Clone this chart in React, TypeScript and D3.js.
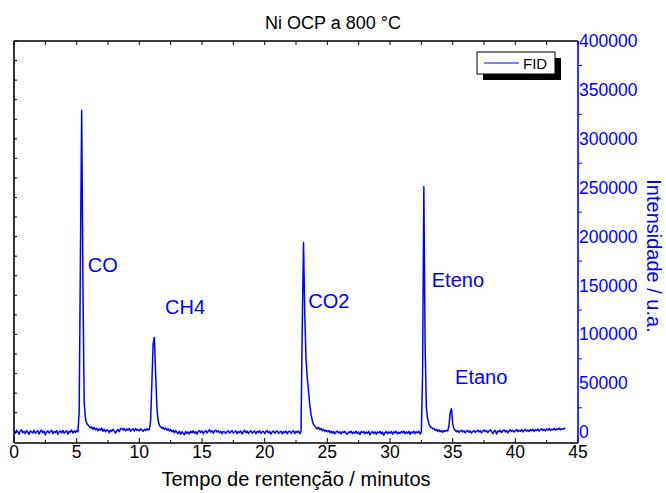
import React from "react";
import * as d3 from "d3";

// FID chromatogram, sampled every 0.1 min starting at 0 min
const sampleStart = 0;
const sampleStep = 0.1;
const fidIntensity: number[] = [
  /* 0.0 */ 1500, -1000, 2000, 500, -2000, 1000, 2500, -500, 800, -1500,
  /* 1.0 */ 1800, 300, -2200, 1200, 600, -800, 2000, -1200, 400, 1500,
  /* 2.0 */ -1800, 700, 2200, -600, 1000, -2500, 300, 1400, -900, 600,
  /* 3.0 */ 2100, -1400, 800, -300, 1700, -2000, 500, 1200, -700, 1900,
  /* 4.0 */ -1100, 400, 1600, -1900, 900, 200, 2300, -800, 1300, -400,
  /* 5.0 */ 1800, 600, 20000, 180000, 329000, 150000, 30000, 14000, 9000, 7500,
  /* 6.0 */ 6000, 4500, 5500, 3000, 4800, 2500, 4000, 1500, 3500, 2000,
  /* 7.0 */ 4200, 1000, 3000, 500, 2500, 1800, -500, 2200, 800, 3000,
  /* 8.0 */ 1200, -800, 1500, 2800, 600, 3500, 4000, 2200, 3800, 1500,
  /* 9.0 */ 3200, 2000, 4000, 1000, 2600, 3400, 1200, 3800, 2000, 2800,
  /* 10.0 */ 1500, 3500, 2200, 1000, 3000, 1800, 3600, 2400, 3000, 12000,
  /* 11.0 */ 50000, 90000, 97000, 60000, 25000, 12000, 7000, 5500, 4000, 5000,
  /* 12.0 */ 3000, 4200, 2000, 3500, 1200, 2800, 500, 2000, -500, 1500,
  /* 13.0 */ 0, -1500, 1000, -2000, 500, -1000, -2500, 800, -1200, 300,
  /* 14.0 */ -1800, 1000, -500, 1500, -1000, 600, -2000, 800, 1500, -300,
  /* 15.0 */ 1200, -1500, 500, 1800, -800, 1000, 2500, 200, 1600, -1000,
  /* 16.0 */ 1200, 2000, 300, 1500, -600, 1000, -1500, 800, 200, -1200,
  /* 17.0 */ 600, 1400, -800, 400, 1800, -1000, 300, 1500, -1500, 700,
  /* 18.0 */ -400, 1200, -1800, 600, 2000, -500, 1100, -1300, 500, 1600,
  /* 19.0 */ -900, 300, 1300, -1600, 800, -200, 1500, -1100, 400, 1000,
  /* 20.0 */ -1400, 600, 1700, -700, 900, -1900, 300, 1200, -1000, 500,
  /* 21.0 */ 1400, -1200, 200, 1000, -1700, 700, -400, 1300, -1500, 600,
  /* 22.0 */ 1100, -900, 400, 1500, -1300, 800, -200, 1200, -1600, 500,
  /* 23.0 */ 110000, 194000, 120000, 75000, 55000, 42000, 28000, 18000, 12000, 8000,
  /* 24.0 */ 6500, 4500, 3500, 5000, 2500, 3800, 1500, 3000, 800, 2000,
  /* 25.0 */ 500, 1800, -500, 1200, -1000, 800, -1500, 300, 1200, -800,
  /* 26.0 */ 500, -1800, 700, -400, 1000, -1200, -2000, 400, -600, 900,
  /* 27.0 */ -1500, 300, -900, 1100, -1400, 200, -2200, 600, -300, 800,
  /* 28.0 */ -1700, 100, -1000, 900, -2500, -500, 700, -1300, 400, -2000,
  /* 29.0 */ 300, -800, 1000, -1600, 200, -3000, -400, 600, -1500, 300,
  /* 30.0 */ -900, 800, -2000, 500, -700, 1000, -1800, 0, -1200, 700,
  /* 31.0 */ -500, 1200, -1500, 400, -1000, 900, -2200, 300, -800, 1100,
  /* 32.0 */ -1400, 500, -600, 1000, -1800, 300, 60000, 251000, 90000, 25000,
  /* 33.0 */ 14000, 9000, 6000, 5000, 3500, 4000, 2000, 3000, 1000, 2500,
  /* 34.0 */ 500, 1800, -200, 1500, 800, 2000, 1200, 6000, 20000, 24000,
  /* 35.0 */ 9000, 3500, 2000, 500, 1800, -300, 1200, 2000, 300, 1500,
  /* 36.0 */ -500, 1000, 1800, 0, 1300, -800, 900, 1600, -200, 1100,
  /* 37.0 */ 2000, 400, 1500, -600, 1200, 2200, 600, 1700, -300, 1300,
  /* 38.0 */ 2500, 800, -1500, 1000, 1900, -1800, 1200, 500, 2000, -400,
  /* 39.0 */ 1400, 2300, 300, 1700, -700, 1200, 2500, 800, 1900, 200,
  /* 40.0 */ 1500, 2800, 600, 2000, 1000, 2600, 300, 1800, 2900, 1100,
  /* 41.0 */ 2200, 800, 2700, 1500, 3000, 900, 2400, 1700, 3200, 1200,
  /* 42.0 */ 2600, 3500, 1800, 2900, 1300, 3300, 2200, 3800, 1900, 3000,
  /* 43.0 */ 2400, 3900, 2100, 3400, 2700, 4200, 2500, 3600, 3000, 4100,
  /* 44.0 */ 3500,
];

const xTicks = [0, 5, 10, 15, 20, 25, 30, 35, 40, 45];
const yTicks = [0, 50000, 100000, 150000, 200000, 250000, 300000, 350000, 400000];

const peakNames = ["CO", "CH4", "CO2", "Eteno", "Etano"];
const peakLabelTime = [5.88, 12.05, 23.48, 33.33, 35.19];
const peakLabelValue = [163800, 120900, 126700, 148800, 49000];

const title = "Ni OCP a 800 °C";
const xTitle = "Tempo de rentenção / minutos";
const yTitle = "Intensidade / u.a.";
const seriesName = "FID";

const W = 666;
const H = 493;
const M = { left: 14, right: 578, top: 41, bottom: 443 };
const BLUE = "#0000ff";
const FONT = "'Liberation Sans', Arial, sans-serif";

export default function App() {
  const x = d3.scaleLinear().domain([0, 45]).range([M.left, M.right]);
  const y = d3.scaleLinear().domain([-11000, 400000]).range([M.bottom, M.top]);

  const pts: [number, number][] = fidIntensity.map((v, i) => [sampleStart + i * sampleStep, v]);
  const line = d3
    .line<[number, number]>()
    .x((d) => x(d[0]))
    .y((d) => y(d[1]));

  const minorX = d3.range(0, 45.01, 2.5);
  const leftMinor = d3.range(0, 400001, 20000);
  const rightMinor = d3.range(25000, 400000, 50000);

  return (
    <svg
      width={W}
      height={H}
      style={{ position: "absolute", left: 0, top: 0, background: "#fff" }}
      fontFamily={FONT}
    >
      <rect x={0} y={0} width={W} height={H} fill="#fff" />
      <text x={333} y={29} textAnchor="middle" fontSize={18} fill="#000">
        {title}
      </text>

      {/* data */}
      <path d={line(pts) || ""} fill="none" stroke={BLUE} strokeWidth={1.5} strokeLinejoin="round" />

      {/* frame */}
      <line x1={M.left} x2={M.right} y1={M.top} y2={M.top} stroke="#000" strokeWidth={1.6} />
      <line x1={M.left} x2={M.left} y1={M.top} y2={M.bottom} stroke="#000" strokeWidth={1.6} />
      <line x1={M.left} x2={M.right} y1={M.bottom} y2={M.bottom} stroke="#000" strokeWidth={1.6} />

      {/* top ticks */}
      {minorX.map((t) => (
        <line key={"tt" + t} x1={x(t)} x2={x(t)} y1={M.top} y2={M.top + 4} stroke="#000" strokeWidth={1} />
      ))}
      {/* bottom ticks */}
      {minorX.map((t) => (
        <line
          key={"bt" + t}
          x1={x(t)}
          x2={x(t)}
          y1={M.bottom}
          y2={M.bottom - (t % 5 === 0 ? 5 : 3)}
          stroke="#000"
          strokeWidth={1}
        />
      ))}
      {/* left ticks */}
      {leftMinor.map((v) => (
        <line key={"lt" + v} x1={M.left} x2={M.left + 3} y1={y(v)} y2={y(v)} stroke="#000" strokeWidth={1} />
      ))}
      {xTicks.map((t) => (
        <text key={"xl" + t} x={x(t)} y={458} textAnchor="middle" fontSize={17.5} fill="#000">
          {t}
        </text>
      ))}

      {/* right axis */}
      <line x1={M.right} x2={M.right} y1={M.top} y2={M.bottom} stroke={BLUE} strokeWidth={1.6} />
      {rightMinor.map((v) => (
        <line key={"rt" + v} x1={M.right} x2={M.right + 4} y1={y(v)} y2={y(v)} stroke={BLUE} strokeWidth={1} />
      ))}
      {yTicks.map((v) => (
        <text key={"yl" + v} x={M.right + 1} y={y(v) + 6} fontSize={17.5} fill={BLUE}>
          {v}
        </text>
      ))}

      {/* axis titles */}
      <text x={(M.left + M.right) / 2} y={486} textAnchor="middle" fontSize={20} fill="#000">
        {xTitle}
      </text>
      <text transform={`translate(647, 256) rotate(90)`} textAnchor="middle" fontSize={20} fill={BLUE}>
        {yTitle}
      </text>

      {/* peak labels */}
      {peakNames.map((n, i) => (
        <text key={n} x={x(peakLabelTime[i])} y={y(peakLabelValue[i])} fontSize={20} fill={BLUE}>
          {n}
        </text>
      ))}

      {/* legend */}
      <rect x={483} y={58} width={78} height={22} fill="#000" />
      <rect x={477} y={52} width={78} height={22} fill="#fff" stroke="#000" strokeWidth={1} />
      <line x1={484} x2={519} y1={63} y2={63} stroke={BLUE} strokeWidth={1.2} />
      <text x={523} y={69} fontSize={15} fill="#000">
        {seriesName}
      </text>
    </svg>
  );
}
